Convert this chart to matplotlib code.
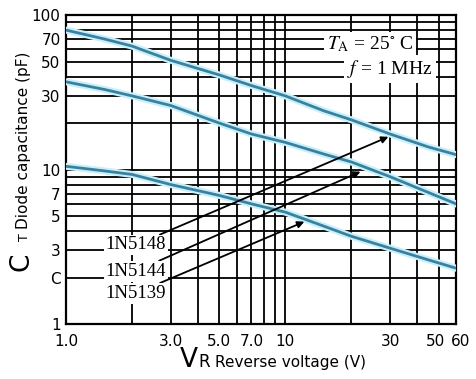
import numpy as np
import matplotlib
matplotlib.use('Agg')
from matplotlib import pyplot as plt
from matplotlib import patheffects as pe
from matplotlib.transforms import ScaledTranslation

# Datos (capacidad vs tension inversa)
vr = [1, 1.5, 2, 3, 5, 7, 10, 15, 20, 30, 45, 60]
c_5148 = [80, 70, 63, 51, 41, 35, 30, 24, 21, 17, 14, 12.5]
c_5144 = [37, 33, 30, 26, 20, 17, 15, 12.6, 11.2, 9, 7.1, 6]
c_5139 = [10.5, 9.8, 9.3, 8, 6.8, 6, 5.3, 4.3, 3.7, 3.1, 2.6, 2.3]

series = [('1N5148', c_5148), ('1N5144', c_5144), ('1N5139', c_5139)]
# puntas de flecha (sobre las curvas) y posicion de las etiquetas
heads = [(29.5, 16.3), (22, 9.7), (12.2, 4.6)]
label_y = [3.25, 2.2, 1.58]

xticks = [1, 3, 5, 7, 10, 30, 50, 60]
xticklabels = ['1.0', '3.0', '5.0', '7.0', '10', '30', '50', '60']
yticks = [1, 2, 3, 5, 7, 10, 30, 50, 70, 100]
yticklabels = ['1', 'C', '3', '5', '7', '10', '30', '50', '70', '100']

xgrid = [2, 3, 4, 5, 6, 7, 8, 9, 10, 20, 30, 40, 50]
ygrid = [2, 3, 4, 5, 6, 7, 8, 9, 10, 20, 30, 40, 50, 60, 70, 80, 90]

plt.rcParams['mathtext.fontset'] = 'stix'
fig = plt.figure(figsize=(4.76, 3.79), dpi=100)
ax = fig.add_axes([0.139, 0.145, 0.819, 0.815])
ax.set_xscale('log'); ax.set_yscale('log')
ax.set_xlim(1, 60); ax.set_ylim(1, 100)

for g in xgrid:
    ax.axvline(g, color='black', lw=1.3, zorder=1)
for g in ygrid:
    ax.axhline(g, color='black', lw=1.3, zorder=1)
for s in ax.spines.values():
    s.set_linewidth(1.6)

for name, c in series:
    ax.plot(vr, c, color='#3a819f', lw=2, zorder=4,
            path_effects=[pe.Stroke(linewidth=5, foreground='#c8f0fb'), pe.Normal()])

for (name, c), h, ly in zip(series, heads, label_y):
    ax.annotate(name, xy=h, xytext=(2.85, ly), ha='right', va='center',
                fontsize=13.5, family='Liberation Serif', zorder=5,
                bbox=dict(boxstyle='square,pad=0.1', fc='white', ec='none'),
                arrowprops=dict(arrowstyle='-|>', color='black', lw=1.3,
                                shrinkA=0, shrinkB=0, mutation_scale=10))

ax.text(0.89, 0.905, r'$T_{\mathrm{A}}$ = 25$^{\circ}$ C', transform=ax.transAxes,
        ha='right', va='center', fontsize=14, family='Liberation Serif', zorder=5,
        bbox=dict(boxstyle='square,pad=0.15', fc='white', ec='none'))
ax.text(0.94, 0.825, r'$f$ = 1 MHz', transform=ax.transAxes,
        ha='right', va='center', fontsize=14, family='Liberation Serif', zorder=5,
        bbox=dict(boxstyle='square,pad=0.15', fc='white', ec='none'))

ax.set_xticks(xticks); ax.set_xticklabels(xticklabels)
ax.set_yticks(yticks); ax.set_yticklabels(yticklabels)
ax.minorticks_off()
ax.tick_params(length=0, labelsize=11)
ax.tick_params(axis='x', pad=7)
ax.tick_params(axis='y', pad=4)
# separar un poco "50" y "60"
xl = ax.get_xticklabels()
xl[-2].set_transform(xl[-2].get_transform() + ScaledTranslation(-2/72, 0, fig.dpi_scale_trans))
xl[-1].set_transform(xl[-1].get_transform() + ScaledTranslation(3/72, 0, fig.dpi_scale_trans))

# Etiquetas de los ejes
yb = 1 - 367/379
fig.text(180/476, yb, 'V', fontsize=19, ha='left', va='baseline')
fig.text(198/476, yb, 'R', fontsize=12, ha='left', va='baseline')
fig.text(215/476, yb, 'Reverse voltage (V)', fontsize=11, ha='left', va='baseline')
fig.text(0.045, 1 - 262/379, 'C', fontsize=19, rotation=90, ha='center', va='center')
fig.text(0.052, 1 - 237/379, 'T', fontsize=9, rotation=90, ha='center', va='center')
fig.text(0.05, 1 - 229/379, 'Diode capacitance (pF)', fontsize=11, rotation=90,
         ha='center', va='bottom')

plt.savefig('out.png', dpi=100)
